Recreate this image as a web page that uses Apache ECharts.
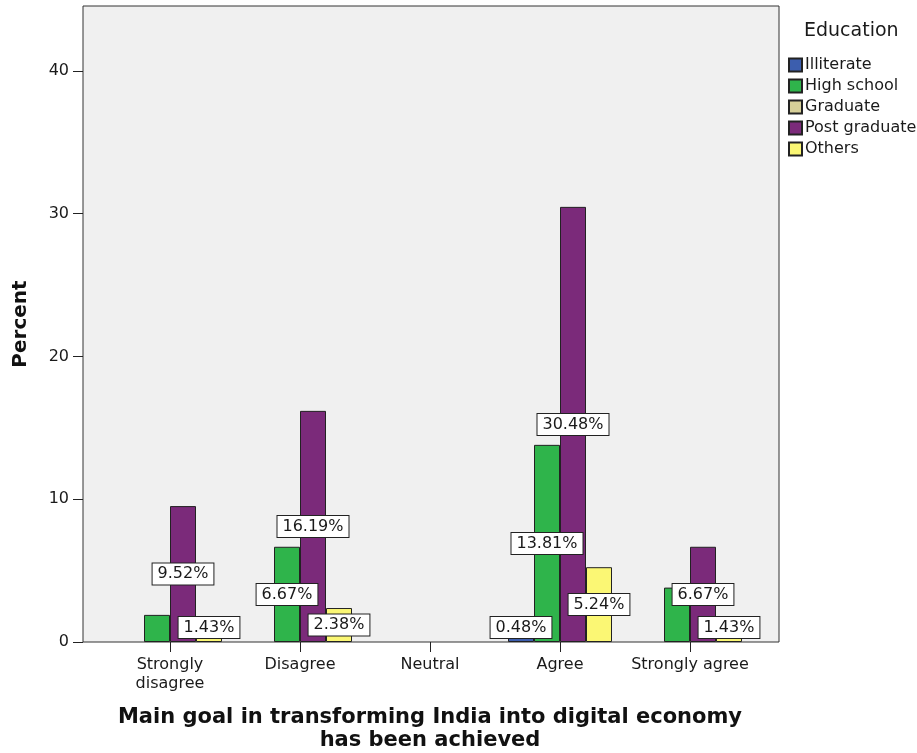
<!DOCTYPE html>
<html lang="en">
<head>
    <meta charset="UTF-8">
    <title>Main goal in transforming India into digital economy</title>
    <script src="https://cdn.jsdelivr.net/npm/echarts@6.0.0/dist/echarts.min.js"></script>
    <style>
        body { margin: 0; background: #fff; }
        #chart { width: 917px; height: 753px; }
    </style>
</head>
<body>
    <div id="chart"></div>

    <script>
        // data (percent of respondents)
        var categories = ['Strongly\ndisagree', 'Disagree', 'Neutral', 'Agree', 'Strongly agree'];
        var illiterate = [null, null, null, 0.48, null];
        var highSchool = [1.90, 6.67, null, 13.81, 3.81];
        var graduate = [null, null, null, null, null];
        var postGraduate = [9.52, 16.19, null, 30.48, 6.67];
        var others = [1.43, 2.38, null, 5.24, 1.43];
        var yTicks = [0, 10, 20, 30, 40];
        // labels that the original hides because they overlap
        var hiddenHighSchool = [0, 4];

        var font = 'DejaVu Sans, sans-serif';
        var txt = '#1a1a1a';

        var chartDom = document.getElementById('chart');
        var myChart = echarts.init(chartDom);

        function makeSeries(name, values, color, hidden, stack) {
            return {
                name: name,
                type: 'bar',
                stack: stack,
                barWidth: 26,
                barGap: '0%',
                itemStyle: { color: color, borderColor: '#222', borderWidth: 1 },
                label: {
                    show: true,
                    position: 'inside',
                    formatter: function (p) { return p.value.toFixed(2) + '%'; },
                    fontFamily: font,
                    fontSize: 16,
                    color: txt,
                    backgroundColor: '#fff',
                    borderColor: '#222',
                    borderWidth: 1,
                    padding: [3, 5, 2, 5]
                },
                labelLayout: function (params) {
                    var r = params.labelRect;
                    // keep the boxes inside the plot, like the original
                    if (r.y + r.height > 639) {
                        return {
                            x: r.x + r.width / 2,
                            y: 639 - r.height / 2,
                            align: 'center',
                            verticalAlign: 'middle'
                        };
                    }
                },
                data: values.map(function (v, i) {
                    if (hidden && hidden.indexOf(i) >= 0) {
                        return { value: v, label: { show: false } };
                    }
                    return v;
                })
            };
        }

        var option = {
            animation: false,
            title: {
                text: 'Education',
                left: 799,
                top: 17,
                textStyle: { fontFamily: font, fontSize: 19, fontWeight: 'normal', color: txt }
            },
            legend: {
                orient: 'vertical',
                left: 783,
                top: 51,
                itemWidth: 13,
                itemHeight: 13,
                itemGap: 3,
                icon: 'rect',
                textStyle: { fontFamily: font, fontSize: 16, color: txt, lineHeight: 18, padding: [0, 0, 0, -2] },
                data: ['Illiterate', 'High school', 'Graduate', 'Post graduate', 'Others']
            },
            graphic: [{
                type: 'rect',
                z: -1,
                shape: { x: 83, y: 6, width: 696, height: 636 },
                style: { fill: '#f0f0f0', stroke: '#333', lineWidth: 1 }
            }],
            grid: { left: 105, right: 162, top: 6, bottom: 111, outerBoundsMode: 'none', containLabel: false },
            xAxis: {
                type: 'category',
                data: categories,
                name: 'Main goal in transforming India into digital economy\nhas been achieved',
                nameLocation: 'middle',
                nameGap: 64,
                nameTextStyle: { fontFamily: font, fontSize: 21, fontWeight: 'bold', color: '#111', lineHeight: 23 },
                axisLine: { show: false },
                axisTick: { show: true, alignWithLabel: true, length: 10, lineStyle: { color: '#222' } },
                axisLabel: { interval: 0, fontFamily: font, fontSize: 16, color: txt, margin: 13, lineHeight: 19 }
            },
            yAxis: {
                type: 'value',
                min: 0,
                max: 44.55,
                offset: 22,
                name: 'Percent',
                nameLocation: 'middle',
                nameGap: 52,
                nameTextStyle: { fontFamily: font, fontSize: 20, fontWeight: 'bold', color: '#111' },
                splitLine: { show: false },
                axisLine: { show: false },
                axisTick: { show: true, length: 10, customValues: yTicks, lineStyle: { color: '#222' } },
                axisLabel: { fontFamily: font, fontSize: 16, color: txt, margin: 14, customValues: yTicks }
            },
            series: [
                makeSeries('Illiterate', illiterate, '#3c5eae', null, 'a'),
                makeSeries('Graduate', graduate, '#d6cf98', null, 'a'),
                makeSeries('High school', highSchool, '#2fb44b', hiddenHighSchool),
                makeSeries('Post graduate', postGraduate, '#7b2a7a', null),
                makeSeries('Others', others, '#fbf774', null)
            ]
        };
        myChart.setOption(option);
    </script>
</body>
</html>
